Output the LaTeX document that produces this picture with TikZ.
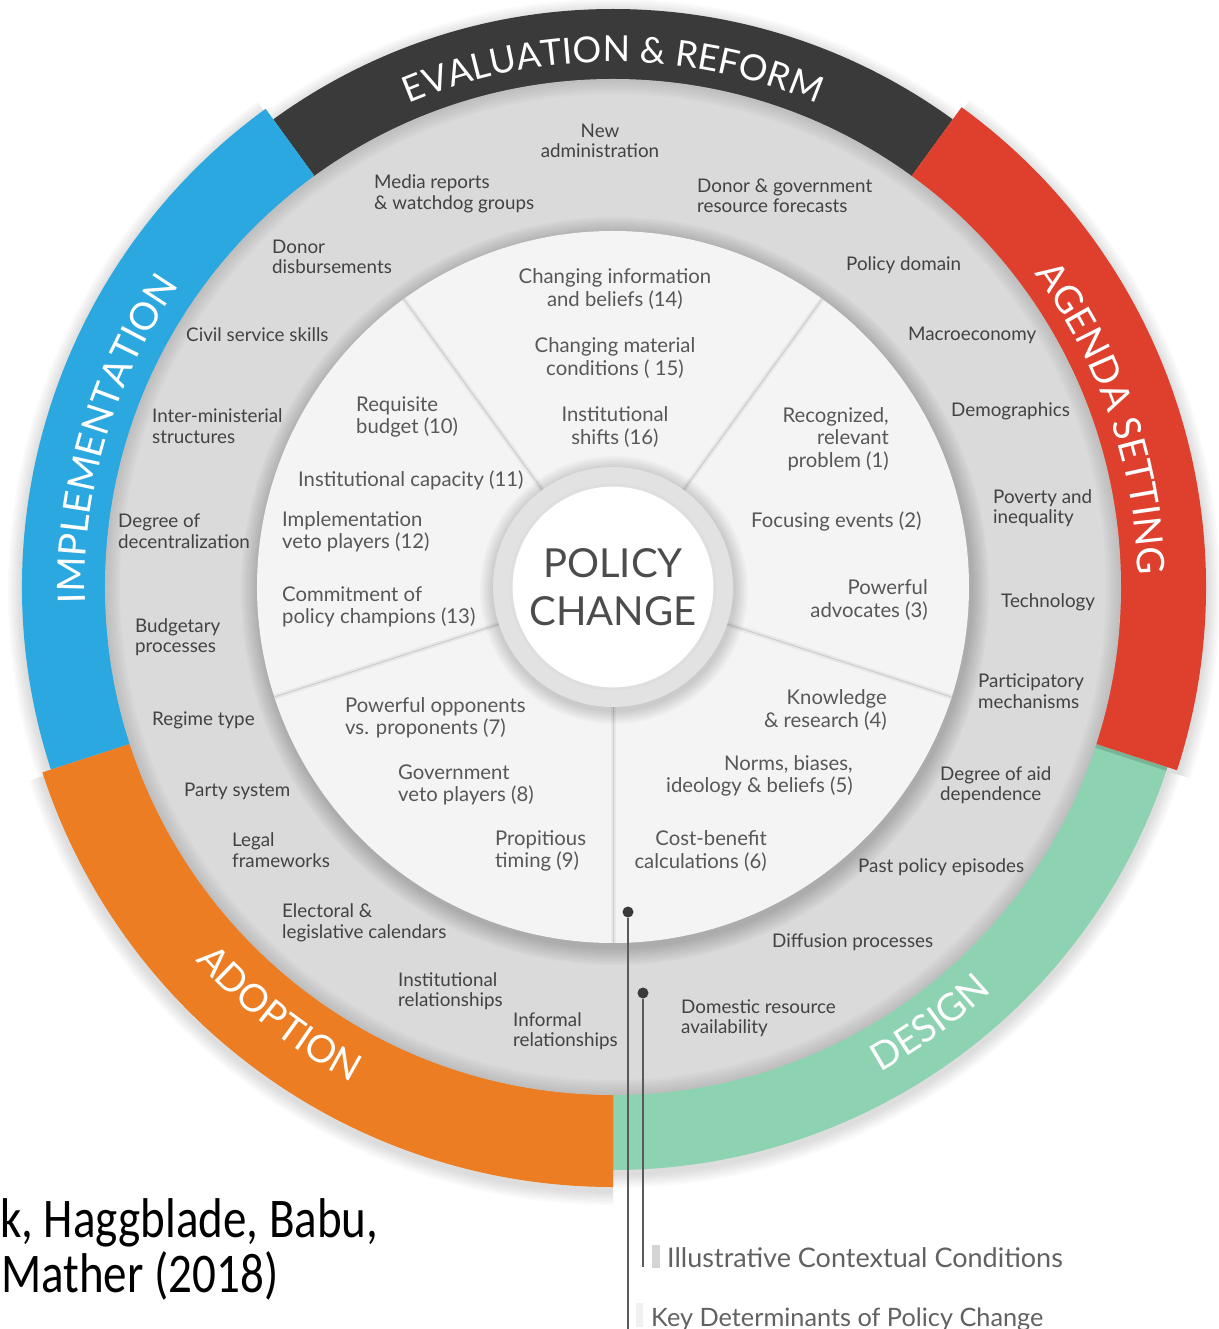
\documentclass[tikz,border=0pt]{standalone}
\usepackage{fontspec}
\setmainfont{Lato}
\newfontfamily\citefont[FakeStretch=0.84]{Carlito}
\usetikzlibrary{decorations.text}

\definecolor{evalgray}{HTML}{3A3A3A}
\definecolor{implblue}{HTML}{2AA8DF}
\definecolor{agendared}{HTML}{DE402D}
\definecolor{designgreen}{HTML}{8DD3B2}
\definecolor{adoptorange}{HTML}{EC7D22}
\definecolor{contextgray}{HTML}{DADADA}
\definecolor{keywhite}{HTML}{F4F4F4}
\definecolor{hubring}{HTML}{E2E2E2}
\definecolor{labelgray}{HTML}{424242}
\definecolor{keygray}{HTML}{575757}
\definecolor{leadgray}{HTML}{5A5A5A}

\newcommand\outerfont{\fontsize{18.8}{20.5}\selectfont}
\newcommand\keyfont{\fontsize{20.3}{22.5}\selectfont}
\newcommand\bandfont{\fontsize{38}{38}\selectfont}
\newcommand\evalfont{\fontsize{36}{36}\selectfont}
\newcommand\hubfont{\fontsize{40}{48}\selectfont}

\tikzset{
  context/.style={font=\outerfont, text=labelgray, inner sep=0pt, align=left, anchor=west},
  determinant/.style={font=\keyfont, text=keygray, inner sep=0pt, align=left, anchor=west},
  bandtext/.style={decorate, decoration={text along path, text align=center, text color=white}},
  leaddot/.style={circle, fill=evalgray, inner sep=0pt, minimum size=11pt},
  leadline/.style={draw=leadgray, line width=1.5pt},
  legendtext/.style={text=black!62, inner sep=0pt, anchor=base west},
}

\begin{document}
\begin{tikzpicture}[x=1pt, y=1pt]
\useasboundingbox (-613,-742) rectangle (605,587);

% stage bands
\foreach \a/\b/\ro/\col in {54/126/578/evalgray, 270/342/583/designgreen, -18/54/593/agendared, 126/198/591/implblue, 198/270/600/adoptorange}{%
  \foreach \i in {1,...,7}
    \fill[black, opacity=0.02, yshift=-4] (\a:490) -- (\a:{\ro+2*\i}) arc[start angle=\a, end angle=\b, radius={\ro+2*\i}] -- (\b:490) arc[start angle=\b, end angle=\a, radius=490] -- cycle;
  \fill[\col] (\a:490) -- (\a:\ro) arc[start angle=\a, end angle=\b, radius=\ro] -- (\b:490) arc[start angle=\b, end angle=\a, radius=490] -- cycle;
}

\fill[contextgray] (0,0) circle[radius=508];
\foreach \i in {1,...,6}
  \fill[black, opacity=0.02, even odd rule] (0,0) circle[radius=508] (0,0) circle[radius={508-2.5*\i}];

\foreach \i in {1,...,9}
  \fill[black, opacity=0.025] (2,-4) circle[radius={356+2*\i}];
\fill[keywhite] (0,0) circle[radius=356];

\foreach \t in {54,126,198,270,342}{%
  \draw[black!12, line width=5pt, opacity=0.6] (\t:118) -- (\t:356);
  \draw[black!20, line width=1pt] (\t:118) -- (\t:356);
}

\foreach \i in {1,...,7}
  \fill[black, opacity=0.025] (1,-3) circle[radius={120+2*\i}];
\node[circle, fill=hubring, minimum size=240pt, inner sep=0pt] (hub) at (0,0) {};
\node[circle, fill=white, draw=black!13, line width=3pt, minimum size=204pt, inner sep=0pt] (hubcore) at (0,0) {};
\node[font=\hubfont, text=black!70, align=center] (policy) at (0,0) {POLICY\\CHANGE};

\path[bandtext, decoration={text={|\evalfont|EVALUATION {\&} REFORM}}] (126:525) arc[start angle=126, end angle=54, radius=525];
\path[bandtext, decoration={text={|\bandfont|AGENDA SETTING}}] (55:525) arc[start angle=55, end angle=-17, radius=525];
\path[bandtext, decoration={text={|\bandfont|IMPLEMENTATION}}] (199.5:528) arc[start angle=199.5, end angle=127.5, radius=528];
\path[bandtext, decoration={text={|\bandfont|ADOPTION}}] (196:560) arc[start angle=196, end angle=268, radius=560];
\path[bandtext, decoration={text={|\bandfont|DESIGN}}] (270:554) arc[start angle=270, end angle=342, radius=554];

\begin{scope}[shift={(-613,587)}, yscale=-1]
% illustrative contextual conditions
\node[context, anchor=center, align=center] (newadmin) at (600,141) {New\\administration};
\node[context] (media) at (374,194) {Media reports\\\& watchdog groups};
\node[context] (forecasts) at (697,196) {Donor \& government\\resource forecasts};
\node[context] (disburse) at (272,257) {Donor\\disbursements};
\node[context] (domain) at (846,265) {Policy domain};
\node[context] (civil) at (186,335) {Civil service skills};
\node[context] (macro) at (908,335) {Macroeconomy};
\node[context] (intermin) at (152,426) {Inter-ministerial\\structures};
\node[context] (demog) at (951,411) {Demographics};
\node[context] (decentral) at (118,531) {Degree of\\decentralization};
\node[context] (poverty) at (993,508) {Poverty and\\inequality};
\node[context] (techno) at (1001,602) {Technology};
\node[context] (budget) at (135,637) {Budgetary\\processes};
\node[context] (particip) at (978,691) {Participatory\\mechanisms};
\node[context] (regime) at (152,720) {Regime type};
\node[context] (aiddep) at (940,785) {Degree of aid\\dependence};
\node[context] (party) at (184,791) {Party system};
\node[context] (legal) at (232,850) {Legal\\frameworks};
\node[context] (pastpol) at (858,867) {Past policy episodes};
\node[context] (electoral) at (282,923) {Electoral \&\\legislative calendars};
\node[context] (diffusion) at (772,942) {Diffusion processes};
\node[context] (instrel) at (398,991) {Institutional\\relationships};
\node[context] (domestic) at (681,1018) {Domestic resource\\availability};
\node[context] (informal) at (513,1031) {Informal\\relationships};

% key determinants
\node[determinant, anchor=center, align=center] (d14) at (615,289) {Changing information\\and beliefs (14)};
\node[determinant, anchor=center, align=center] (d15) at (615,358) {Changing material\\conditions ( 15)};
\node[determinant, anchor=center, align=center] (d16) at (615,427) {Institutional\\shifts (16)};
\node[determinant, anchor=east, align=right] (d1) at (889,439) {Recognized,\\relevant\\problem (1)};
\node[determinant] (d2) at (751,521) {Focusing events (2)};
\node[determinant, anchor=east, align=right] (d3) at (928,600) {Powerful\\advocates (3)};
\node[determinant, anchor=east, align=right] (d4) at (887,710) {Knowledge\\\& research (4)};
\node[determinant, anchor=east, align=right] (d5) at (853,776) {Norms, biases,\\ideology \& beliefs (5)};
\node[determinant, anchor=east, align=right] (d6) at (767,851) {Cost-benefit\\calculations (6)};
\node[determinant] (d7) at (345,718) {Powerful opponents\\vs. proponents (7)};
\node[determinant] (d8) at (398,785) {Government\\veto players (8)};
\node[determinant] (d9) at (495,851) {Propitious\\timing (9)};
\node[determinant] (d10) at (356,417) {Requisite\\budget (10)};
\node[determinant] (d11) at (298,480) {Institutional capacity (11)};
\node[determinant] (d12) at (282,532) {Implementation\\veto players (12)};
\node[determinant] (d13) at (282,607) {Commitment of\\policy champions (13)};

% legend
\node[leaddot] (keydot) at (628,912) {};
\coordinate (keyend) at (628,1329);
\draw[leadline] (keydot) -- (keyend);
\node[leaddot] (ctxdot) at (643,993) {};
\coordinate (ctxend) at (643,1267);
\draw[leadline] (ctxdot) -- (ctxend);
\fill[black!17] (652,1245) rectangle (660,1268);
\fill[black!6] (636,1303) rectangle (643,1327);
\node[legendtext, font=\fontsize{27}{30}\selectfont] (ctxlegend) at (667,1267) {Illustrative Contextual Conditions};
\node[legendtext, font=\fontsize{25.3}{30}\selectfont] (keylegend) at (651,1326) {Key Determinants of Policy Change};

\node[font={\citefont\fontsize{56}{60}\selectfont}, anchor=base west, inner sep=0pt] (cite1) at (0,1237) {k, Haggblade, Babu,};
\node[font={\citefont\fontsize{56}{60}\selectfont}, anchor=base west, inner sep=0pt] (cite2) at (1,1292) {Mather (2018)};
\end{scope}
\end{tikzpicture}
\end{document}
